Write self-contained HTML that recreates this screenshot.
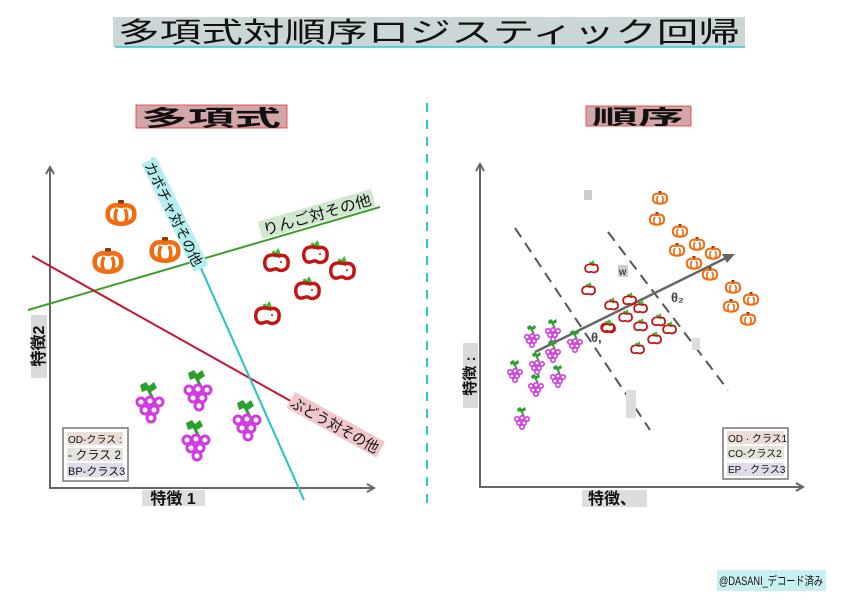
<!DOCTYPE html>
<html><head><meta charset="utf-8"><style>
html,body{margin:0;padding:0;background:#fff;}
svg{display:block;}
text{font-family:"Liberation Sans","Noto Sans CJK JP",sans-serif;}
</style></head><body>
<svg width="849" height="600" viewBox="0 0 849 600" xmlns="http://www.w3.org/2000/svg">
<defs>
<g id="pk">
 <rect x="-3" y="-15" width="6" height="7" fill="#8b3a0e" rx="1"/>
 <path d="M-13,2 C-15,-9 -7,-11 0,-9 C7,-11 15,-9 13,2 C11,11 -11,11 -13,2 Z" fill="none" stroke="#f26b0f" stroke-width="4.5"/>
 <path d="M-4,-6 C-7,0 -6,6 -3,8 M4,-6 C7,0 6,6 3,8" fill="none" stroke="#f26b0f" stroke-width="3.5"/>
</g>
<g id="ap">
 <path d="M-4,-11 l2,4 l3,-4 l2,5" fill="none" stroke="#3bb82c" stroke-width="3"/>
 <path d="M-9,-6 C-14,-3 -13,7 -8,8 C-5,9 -3,6 0,7 C4,10 11,8 11,2 C12,-5 7,-8 2,-6 C-1,-7 -5,-8 -9,-6 Z" fill="none" stroke="#c41414" stroke-width="3.5"/>
 <circle cx="4" cy="0" r="1" fill="#c41414"/>
</g>
<g id="gr">
 <path d="M-10,-20 l6,-3 l3,4 l5,-4 l3,6 l-6,4 l-4,-2 l-5,2 Z" fill="#2ca02c"/>
 <path d="M-2,-16 L3,-6" stroke="#2ca02c" stroke-width="3"/>
 <g fill="none" stroke="#d23be0" stroke-width="3">
  <circle cx="-9" cy="-3" r="4"/><circle cx="0" cy="-4" r="4"/><circle cx="9" cy="-3" r="4"/>
  <circle cx="-5" cy="5" r="4"/><circle cx="4" cy="5" r="4"/><circle cx="1" cy="13" r="4"/>
 </g>
</g>
<g id="pks">
 <rect x="-1.5" y="-8" width="3" height="4" fill="#8b3a0e"/>
 <path d="M-7,1 C-8,-5 -4,-6 0,-5 C4,-6 8,-5 7,1 C6,6 -6,6 -7,1 Z" fill="none" stroke="#f26b0f" stroke-width="2"/>
 <path d="M-2,-3 C-4,0 -3,3 -2,4 M2,-3 C4,0 3,3 2,4" fill="none" stroke="#f26b0f" stroke-width="1.6"/>
</g>
<g id="aps">
 <path d="M-2,-6 l1,2 l2,-2 l1,3" fill="none" stroke="#3bb82c" stroke-width="2"/>
 <path d="M-5,-3 C-8,-1 -7,4 -4,4 C-2,5 -1,3 0,4 C2,5 6,4 6,1 C6,-3 4,-4 1,-3 C-1,-4 -3,-4 -5,-3 Z" fill="none" stroke="#c41414" stroke-width="1.8"/>
</g>
<g id="grs">
 <path d="M-5,-11 l3,-2 l2,2 l3,-2 l1,3 l-3,2 l-2,-1 l-3,1 Z" fill="#2ca02c"/>
 <path d="M-1,-9 L2,-4" stroke="#2ca02c" stroke-width="1.8"/>
 <g fill="none" stroke="#d23be0" stroke-width="1.6">
  <circle cx="-5" cy="-1" r="2.2"/><circle cx="0" cy="-2" r="2.2"/><circle cx="5" cy="-1" r="2.2"/>
  <circle cx="-3" cy="3" r="2.2"/><circle cx="2" cy="3" r="2.2"/><circle cx="0" cy="7" r="2.2"/>
 </g>
</g>
</defs>

<!-- title -->
<rect x="113" y="17" width="632" height="30" fill="#cbd6d6"/>
<line x1="115" y1="47" x2="745" y2="47" stroke="#2cc9c9" stroke-width="1.5"/>
<text x="429" y="42" font-size="28" text-anchor="middle" fill="#111" textLength="622" lengthAdjust="spacingAndGlyphs">多項式対順序ロジスティック回帰</text>

<rect x="136" y="105" width="151" height="23" fill="#d3a7a7" stroke="#e33" stroke-width="0.8"/>
<text x="211" y="126" font-size="22" text-anchor="middle" font-weight="bold" fill="#111" textLength="140" lengthAdjust="spacingAndGlyphs">多項式</text>
<rect x="586" y="106" width="105" height="20" fill="#d3a7a7" stroke="#e33" stroke-width="0.8"/>
<text x="638" y="124" font-size="20" text-anchor="middle" font-weight="bold" fill="#111" textLength="92" lengthAdjust="spacingAndGlyphs">順序</text>

<line x1="427" y1="103" x2="427" y2="505" stroke="#2cc9c9" stroke-width="2" stroke-dasharray="9,8"/>

<!-- LEFT CHART -->
<g stroke="#666" stroke-width="2" fill="none">
 <line x1="50" y1="168" x2="50" y2="488"/>
 <line x1="49" y1="488" x2="373" y2="488"/>
 <path d="M46,174 L50,167 L54,174"/>
 <path d="M367,484 L374,488 L367,492"/>
</g>
<rect x="31" y="315" width="16" height="63" fill="#d9d9d9"/>
<text transform="translate(44,346) rotate(-90)" font-size="16" font-weight="bold" text-anchor="middle" fill="#111">特徴2</text>
<rect x="142" y="490" width="63" height="16" fill="#ddd"/>
<text x="173" y="504" font-size="16" font-weight="bold" text-anchor="middle" fill="#111">特徴 1</text>

<line x1="28" y1="310" x2="380" y2="207" stroke="#3ca028" stroke-width="2"/>
<line x1="32" y1="256" x2="378" y2="450" stroke="#c81430" stroke-width="2"/>
<line x1="152" y1="158" x2="304" y2="500" stroke="#23c4c4" stroke-width="2"/>

<g transform="translate(154,158) rotate(64)">
 <rect x="0" y="-2" width="120" height="16" fill="#b4eeee"/>
 <text x="2" y="12" font-size="14" fill="#111" textLength="114" lengthAdjust="spacingAndGlyphs">カボチャ対その他</text>
</g>
<g transform="translate(262,237) rotate(-16)">
 <rect x="0" y="-16" width="118" height="18" fill="#cfe8cf"/>
 <text x="3" y="-1" font-size="15" fill="#111" textLength="112" lengthAdjust="spacingAndGlyphs">りんご対その他</text>
</g>
<g transform="translate(295,392) rotate(29)">
 <rect x="0" y="0" width="103" height="18" fill="#f2c7cc"/>
 <text x="2" y="15" font-size="15" fill="#111" textLength="98" lengthAdjust="spacingAndGlyphs">ぶどう対その他</text>
</g>

<use href="#pk" x="121" y="215"/><use href="#pk" x="108" y="263"/><use href="#pk" x="165" y="252"/>
<use href="#ap" x="277" y="262"/><use href="#ap" x="316" y="254"/><use href="#ap" x="343" y="270"/><use href="#ap" x="308" y="290"/><use href="#ap" x="268" y="315"/>
<use href="#gr" x="150" y="405"/><use href="#gr" x="198" y="393"/><use href="#gr" x="196" y="443"/><use href="#gr" x="247" y="423"/>

<rect x="63" y="428" width="65" height="53" fill="#fff" stroke="#777" stroke-width="1.5"/>
<rect x="67" y="432" width="56" height="13" fill="#ecdcd6"/>
<rect x="67" y="448" width="56" height="13" fill="#e6e2dc"/>
<rect x="67" y="463" width="56" height="14" fill="#e2dcea"/>
<text x="68" y="443" font-size="10" fill="#111">OD-クラス :</text>
<text x="68" y="459" font-size="12" fill="#111">- クラス 2</text>
<text x="68" y="475" font-size="11" fill="#111">BP-クラス3</text>

<!-- RIGHT CHART -->
<g stroke="#666" stroke-width="2" fill="none">
 <line x1="480" y1="165" x2="480" y2="487"/>
 <line x1="479" y1="487" x2="802" y2="487"/>
 <path d="M476,171 L480,164 L484,171"/>
 <path d="M796,483 L803,487 L796,491"/>
</g>
<rect x="463" y="343" width="15" height="65" fill="#d9d9d9"/>
<text transform="translate(475,376) rotate(-90)" font-size="15" font-weight="bold" text-anchor="middle" fill="#111">特徴 :</text>
<rect x="582" y="490" width="65" height="17" fill="#ddd"/>
<text x="612" y="504" font-size="16" font-weight="bold" text-anchor="middle" fill="#111">特徴、</text>

<g stroke="#555" stroke-width="2" stroke-dasharray="11,7" fill="none">
 <line x1="515" y1="228" x2="650" y2="430"/>
 <line x1="608" y1="232" x2="728" y2="390"/>
</g>
<line x1="535" y1="352" x2="730" y2="256" stroke="#666" stroke-width="2.5"/>
<path d="M722,254 L735,254 L727,263 Z" fill="#666"/>
<text x="591" y="342" font-size="13" font-weight="bold" fill="#444">θ,</text>
<text x="671" y="302" font-size="13" font-weight="bold" fill="#444">θ₂</text>
<rect x="618" y="265" width="10" height="12" fill="#ccc"/>
<text x="619" y="275" font-size="10" fill="#111">w</text>
<rect x="584" y="190" width="8" height="10" fill="#ccc"/>
<rect x="626" y="390" width="10" height="28" fill="#ddd"/>
<rect x="692" y="338" width="8" height="12" fill="#ddd"/>

<use href="#pks" x="660" y="199"/><use href="#pks" x="657" y="220"/><use href="#pks" x="680" y="232"/><use href="#pks" x="697" y="245"/><use href="#pks" x="677" y="251"/><use href="#pks" x="713" y="254"/><use href="#pks" x="694" y="264"/><use href="#pks" x="710" y="275"/><use href="#pks" x="733" y="288"/><use href="#pks" x="751" y="300"/><use href="#pks" x="731" y="307"/><use href="#pks" x="748" y="320"/>
<use href="#aps" x="592" y="268"/><use href="#aps" x="589" y="290"/><use href="#aps" x="612" y="305"/><use href="#aps" x="630" y="300"/><use href="#aps" x="641" y="308"/><use href="#aps" x="626" y="317"/><use href="#aps" x="608" y="327"/><use href="#aps" x="641" y="326"/><use href="#aps" x="659" y="321"/><use href="#aps" x="670" y="329"/><use href="#aps" x="655" y="339"/><use href="#aps" x="638" y="349"/><use href="#aps" x="609" y="328"/>
<use href="#grs" x="532" y="338"/><use href="#grs" x="553" y="332"/><use href="#grs" x="575" y="343"/><use href="#grs" x="553" y="353"/><use href="#grs" x="537" y="365"/><use href="#grs" x="515" y="373"/><use href="#grs" x="558" y="378"/><use href="#grs" x="536" y="387"/><use href="#grs" x="522" y="420"/>

<rect x="723" y="428" width="65" height="51" fill="#fff" stroke="#777" stroke-width="1.5"/>
<rect x="727" y="431" width="57" height="13" fill="#ecdcd6"/>
<rect x="727" y="446" width="57" height="13" fill="#e6e2dc"/>
<rect x="727" y="463" width="57" height="13" fill="#e2dcea"/>
<text x="728" y="442" font-size="10" fill="#111">OD · クラス1</text>
<text x="728" y="457" font-size="10" fill="#111">CO-クラス2</text>
<text x="728" y="473" font-size="10" fill="#111">EP · クラス3</text>

<rect x="717" y="570" width="109" height="21" fill="#c9f0f0"/>
<text x="771" y="585" font-size="12" text-anchor="middle" fill="#111" textLength="104" lengthAdjust="spacingAndGlyphs">@DASANI_デコード済み</text>
</svg>
</body></html>
